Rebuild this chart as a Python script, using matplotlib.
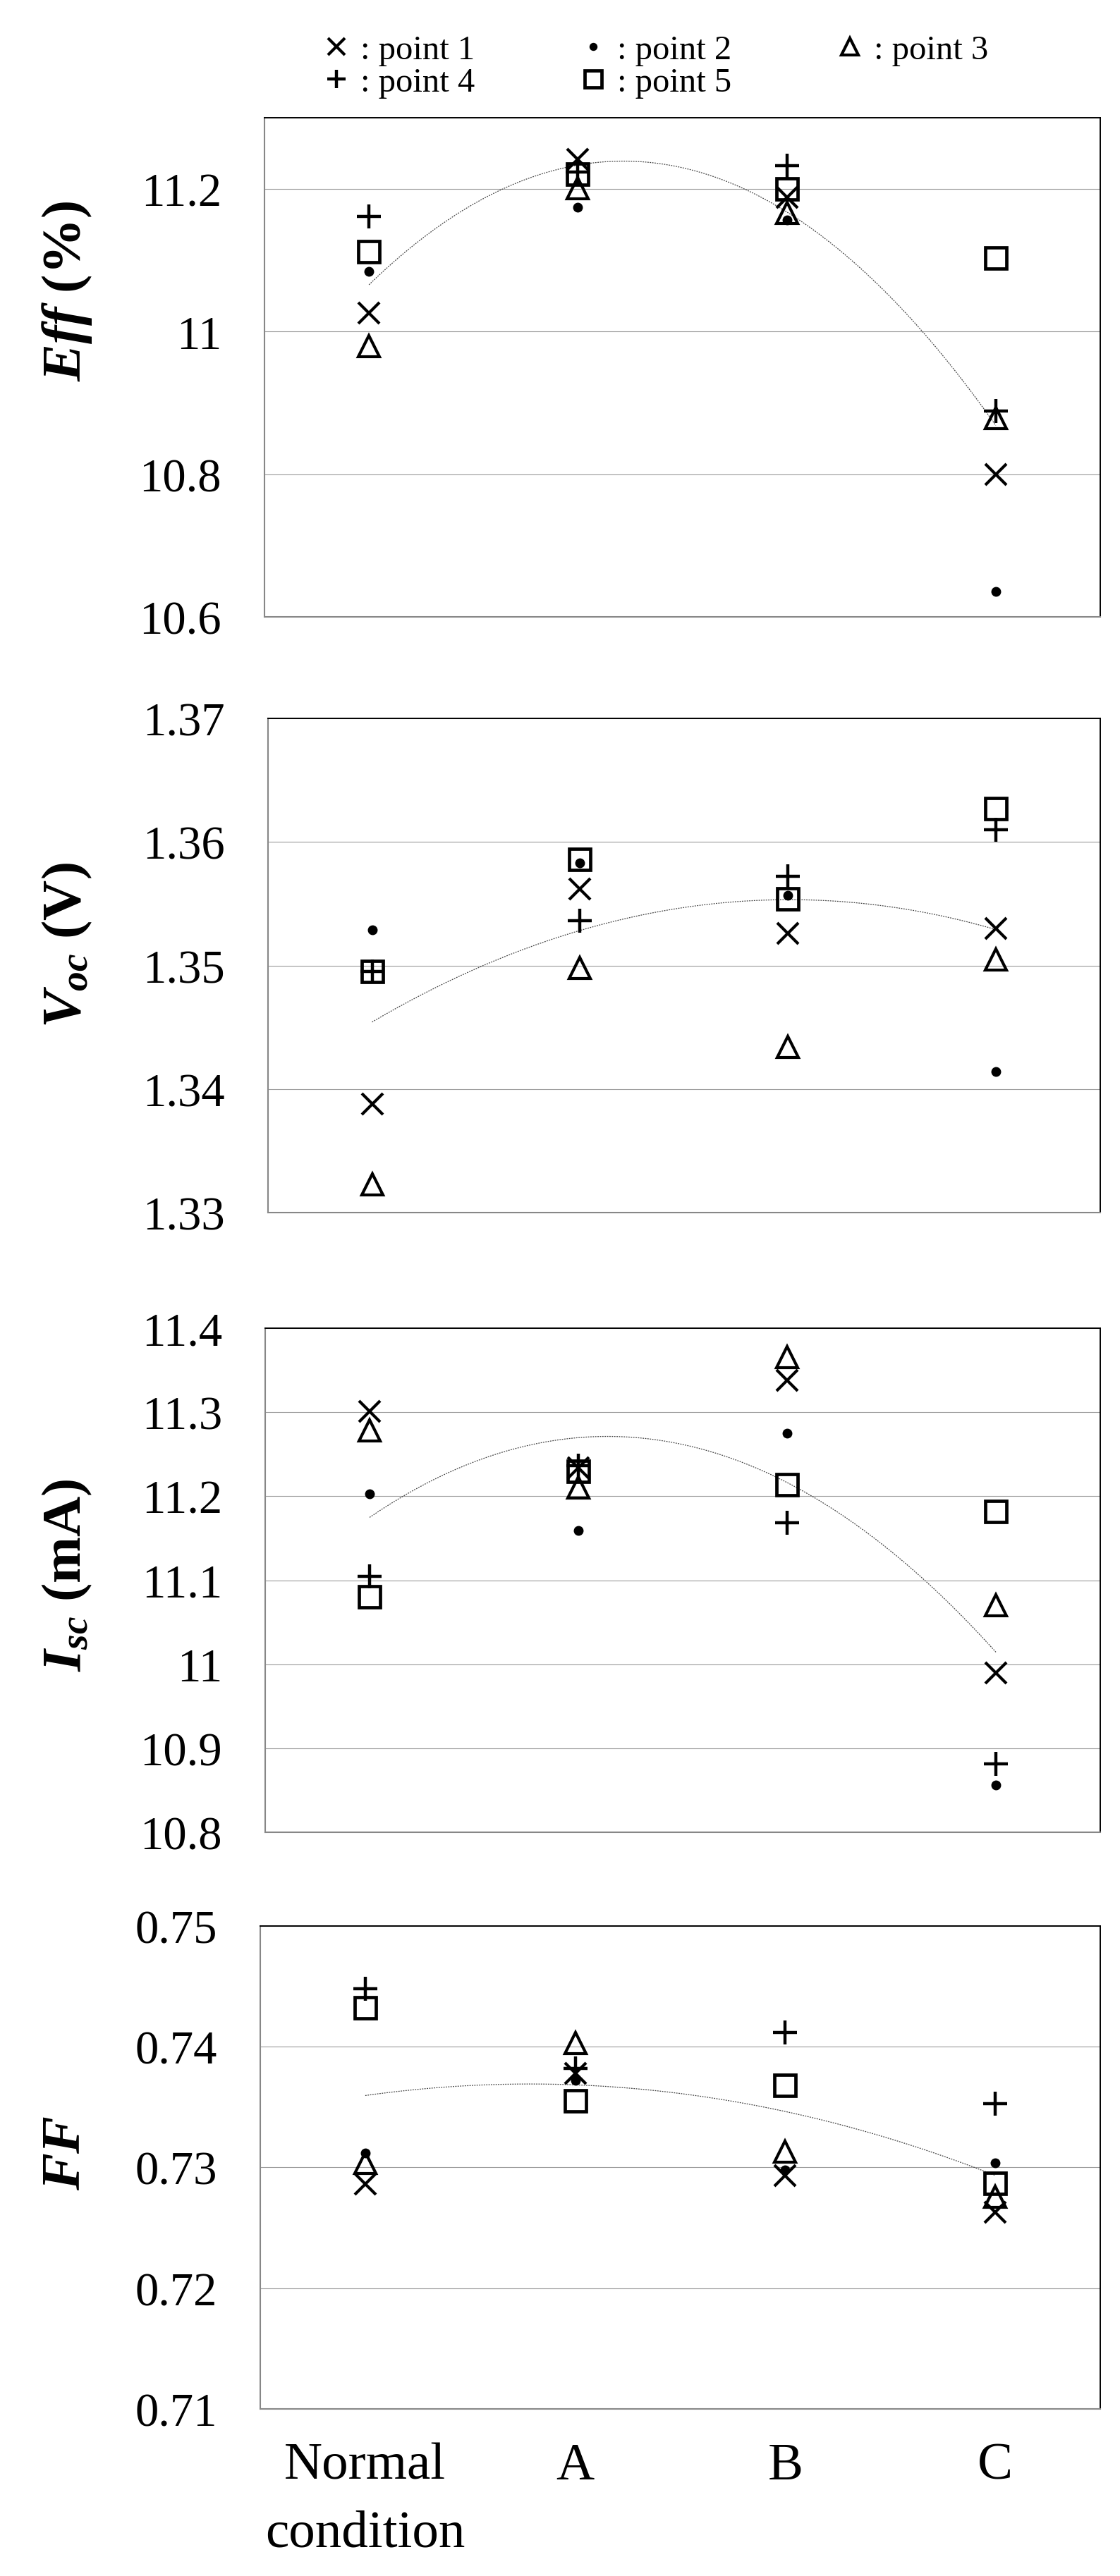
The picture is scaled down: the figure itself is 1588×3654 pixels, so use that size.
import matplotlib
matplotlib.use('Agg')
import matplotlib.pyplot as plt
import numpy as np

plt.rcParams['font.family'] = ['Liberation Serif', 'DejaVu Serif']
plt.rcParams['mathtext.fontset'] = 'custom'
plt.rcParams['mathtext.rm'] = 'Liberation Serif:bold'
plt.rcParams['mathtext.it'] = 'Liberation Serif:italic:bold'
plt.rcParams['mathtext.bf'] = 'Liberation Serif:bold'

# ---- data (rows: point 1..5, columns: Normal, A, B, C) ----
categories = ['Normal\ncondition', 'A', 'B', 'C']
point_names = [': point 1', ': point 2', ': point 3', ': point 4', ': point 5']

eff = [[11.026, 11.242, 11.188, 10.800],
       [11.084, 11.174, 11.157, 10.636],
       [10.980, 11.201, 11.167, 10.879],
       [11.162, 11.224, 11.233, 10.889],
       [11.112, 11.221, 11.200, 11.103]]

voc = [[1.3388, 1.3562, 1.3526, 1.3530],
       [1.3529, 1.3583, 1.3557, 1.3414],
       [1.3323, 1.3498, 1.3434, 1.3505],
       [1.3495, 1.3536, 1.3572, 1.3610],
       [1.3495, 1.3586, 1.3554, 1.3627]]

isc = [[11.301, 11.234, 11.338, 10.990],
       [11.203, 11.159, 11.275, 10.856],
       [11.278, 11.210, 11.366, 11.070],
       [11.105, 11.236, 11.168, 10.881],
       [11.080, 11.230, 11.214, 11.182]]

ff = [[0.7286, 0.7378, 0.7293, 0.7263],
      [0.7312, 0.7372, 0.7298, 0.7304],
      [0.7304, 0.7403, 0.7313, 0.7276],
      [0.7448, 0.7382, 0.7412, 0.7353],
      [0.7432, 0.7355, 0.7368, 0.7287]]

eff_ticks = [10.6, 10.8, 11.0, 11.2]
voc_ticks = [1.33, 1.34, 1.35, 1.36, 1.37]
isc_ticks = [10.8, 10.9, 11.0, 11.1, 11.2, 11.3, 11.4]
ff_ticks = [0.71, 0.72, 0.73, 0.74, 0.75]

# ---- layout (pixels of the 1588x3655 canvas) ----
W, H = 1588, 3655
fig = plt.figure(figsize=(W / 100, H / 100), dpi=100)

styles = [dict(marker='x', ms=21, mew=3.0, color='k'),
          dict(marker='o', ms=9, color='k'),
          dict(marker='^', ms=22, mew=3.0, mfc='none', mec='k'),
          dict(marker='+', ms=24, mew=3.2, color='k'),
          dict(marker='s', ms=22, mew=3.4, mfc='none', mec='k')]

panels = [
    (eff, (10.6, 11.3), eff_ticks, r'$Eff$ (%)', 413, (375, 168, 876)),
    (voc, (1.33, 1.37), voc_ticks, r'$V_{oc}$ (V)', 1341, (380, 1020, 1721)),
    (isc, (10.8, 11.4), isc_ticks, r'$I_{sc}$ (mA)', 2234, (376, 1885, 2600)),
    (ff, (0.71, 0.75), ff_ticks, r'$FF$', 3054, (369, 2733, 3418)),
]
right = 1560
x = np.arange(1, 5)

handles = []
for k, (vals, ylim, ticks, label, label_y, box) in enumerate(panels):
    l, t, b = box
    ax = fig.add_axes([l / W, 1 - b / H, (right - l) / W, (b - t) / H])
    ax.set_xlim(0.5, 4.5)
    ax.set_ylim(*ylim)
    ax.set_yticks(ticks)
    ax.set_yticklabels(['%g' % v for v in ticks])
    ax.yaxis.grid(True, color='#9a9a9a', lw=0.8)
    ax.set_axisbelow(True)

    # polynomial (order 2) trend through all points
    xx = np.tile(x, len(vals))
    yy = np.concatenate(vals)
    c = np.polyfit(xx, yy, 2)
    xs = np.linspace(1, 4, 200)
    ax.plot(xs, np.polyval(c, xs), color='#444444', lw=0.9,
            ls=(0, (1.5, 1.2)), zorder=2)

    for i in range(len(vals)):
        h, = ax.plot(x, vals[i], ls='none', zorder=3, clip_on=False, **styles[i])
        if k == 0:
            handles.append(h)

    for s in ['top', 'right']:
        ax.spines[s].set_color('black')
        ax.spines[s].set_linewidth(1.4)
    for s in ['left', 'bottom']:
        ax.spines[s].set_color('#878787')
        ax.spines[s].set_linewidth(1.5)

    ax.tick_params(axis='y', length=0, pad=44, labelsize=48)
    ax.tick_params(axis='x', length=0, pad=34, labelsize=54)
    ax.set_xticks(x)
    if k == 3:
        ax.set_xticklabels(categories, linespacing=1.55)
    else:
        ax.set_xticklabels([])

    fig.text(95 / W, 1 - label_y / H, label, rotation=90, ha='center',
             va='center', fontsize=57, fontweight='bold')

order = [0, 3, 1, 4, 2]
fig.legend([handles[i] for i in order], [point_names[i] for i in order],
           ncol=3, loc='upper left', bbox_to_anchor=(455 / W, 1 - 50 / H),
           frameon=False, fontsize=35, handlelength=0.9, handletextpad=0.25,
           columnspacing=3.0, labelspacing=0.05, borderpad=0,
           borderaxespad=0, markerscale=0.8)

fig.savefig('out.png', dpi=100)
